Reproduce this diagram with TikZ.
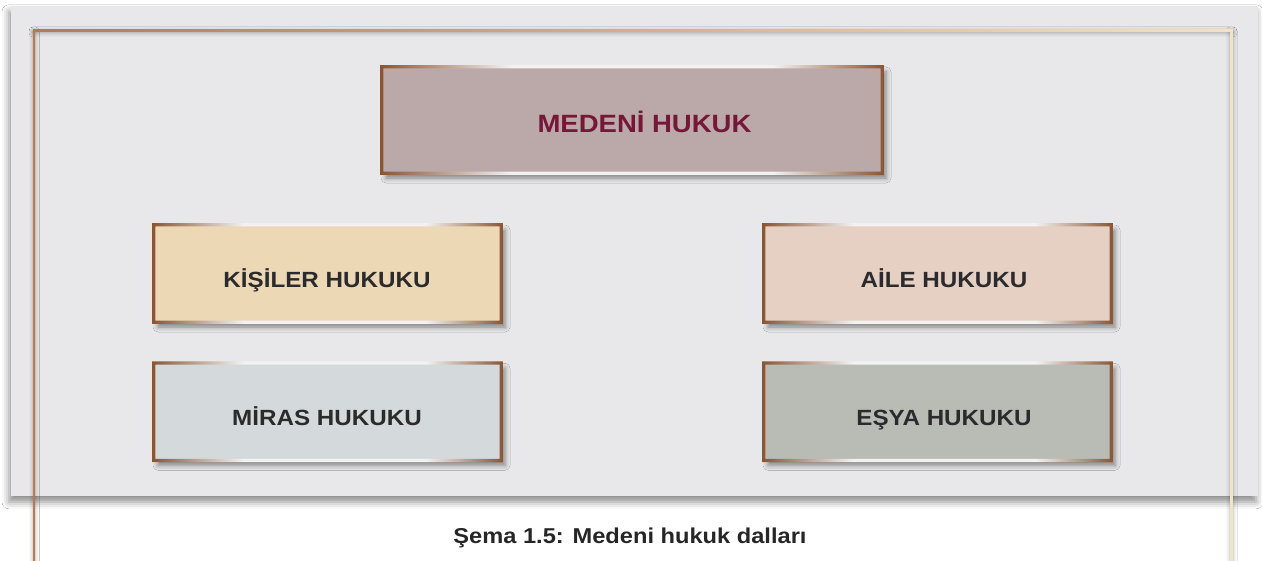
\documentclass[tikz,border=0pt]{standalone}
\usepackage{fontspec}
\newfontfamily\hf[FakeStretch=1.1]{Liberation Sans}
\usetikzlibrary{shadows.blur}
\definecolor{bbrown}{HTML}{8A5533}
\definecolor{blight}{HTML}{F2F2F2}
\definecolor{panelc}{HTML}{E8E8EA}
\definecolor{framel}{HTML}{B67A55}
\definecolor{framer}{HTML}{F3E2C6}
\definecolor{titlef}{HTML}{BBA9A9}
\definecolor{titlet}{HTML}{761638}
\definecolor{kisf}{HTML}{EDD8B6}
\definecolor{ailef}{HTML}{E6CFC3}
\definecolor{mirf}{HTML}{D4DADB}
\definecolor{esyf}{HTML}{B9BCB4}
\definecolor{txt}{HTML}{2B2A2C}
\pgfdeclarehorizontalshading{bshade}{100bp}{color(0bp)=(bbrown); color(25bp)=(bbrown); color(38bp)=(blight); color(64bp)=(blight); color(75bp)=(bbrown); color(100bp)=(bbrown)}
\pgfdeclarehorizontalshading{fshade}{100bp}{color(0bp)=(framel); color(25bp)=(framel); color(75bp)=(framer); color(100bp)=(framer)}
\tikzset{
  boxn/.style={rectangle, inner sep=0pt, draw=none,
    blur shadow={shadow xshift=4pt, shadow yshift=-5pt, shadow blur radius=5pt, shadow opacity=45}},
  boxt/.style={anchor=base, inner sep=0pt, font=\hf\bfseries\fontsize{22}{26}\selectfont, text=txt},
  fshadow/.style={blur shadow={shadow xshift=0pt, shadow yshift=-1pt, shadow blur radius=4pt, shadow opacity=30}},
}
\newcommand{\brd}[1]{%
  \shade[shading=bshade, even odd rule]
    ([shift={(-1.6pt,-1.6pt)}]#1.south west) rectangle ([shift={(1.6pt,1.6pt)}]#1.north east)
    ([shift={(1.6pt,1.6pt)}]#1.south west) rectangle ([shift={(-1.6pt,-1.6pt)}]#1.north east);}
\begin{document}
\begin{tikzpicture}[x=1pt,y=-1pt]
\useasboundingbox (0,0) rectangle (1262,561);
\fill[white] (0,0) rectangle (1262,561);
% panel
\node[rectangle, inner sep=0pt, fill=panelc, minimum width=1247pt, minimum height=490pt,
  blur shadow={shadow xshift=-2pt, shadow yshift=-6pt, shadow blur radius=7pt, shadow opacity=45}]
  (panel) at (634.5,250.8) {};
% frame
\coordinate (ftl) at (33,30);
\coordinate (ftr) at (1233,32);
\coordinate (flb) at (35.3,575);
\coordinate (frt) at (1230,30);
\coordinate (frb) at (1233,575);
\fill[framel, fshadow] (ftl) rectangle (flb);
\fill[framer, fshadow] (frt) rectangle (frb);
\shade[shading=fshade, fshadow] (ftl) rectangle (ftr);
\shade[shading=fshade] (ftl) rectangle (ftr);
\fill[framel] (ftl) rectangle (flb);
\fill[framer] (frt) rectangle (frb);
% boxes
\node[boxn, fill=titlef, minimum width=500pt, minimum height=106pt] (med) at (632,120) {};
\node[boxn, fill=kisf, minimum width=347pt, minimum height=97pt] (kis) at (327.5,273.5) {};
\node[boxn, fill=ailef, minimum width=347pt, minimum height=97pt] (aile) at (937.5,273.5) {};
\node[boxn, fill=mirf, minimum width=347pt, minimum height=97pt] (mir) at (327.5,411.8) {};
\node[boxn, fill=esyf, minimum width=347pt, minimum height=97pt] (esy) at (937.5,411.8) {};
\brd{med}\brd{kis}\brd{aile}\brd{mir}\brd{esy}
% texts
\node[boxt, text=titlet, font=\hf\bfseries\fontsize{25}{30}\selectfont] (medt) at (644.5,133) {MEDENİ HUKUK};
\node[boxt] (kist) at (327,287.5) {KİŞİLER HUKUKU};
\node[boxt] (ailet) at (944,287.5) {AİLE HUKUKU};
\node[boxt] (mirt) at (327,425.8) {MİRAS HUKUKU};
\node[boxt] (esyt) at (944,425.8) {EŞYA HUKUKU};
\node[boxt, text=black!85, font=\hf\bfseries\fontsize{21.5}{26}\selectfont] (cap) at (630,543) {Şema 1.5: Medeni hukuk dalları};
\end{tikzpicture}
\end{document}
